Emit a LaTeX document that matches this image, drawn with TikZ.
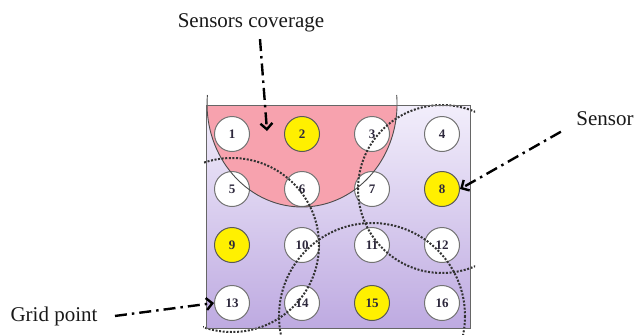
\documentclass[tikz,border=0pt]{standalone}
\usepackage{fontspec}
\setmainfont{Liberation Serif}
\usetikzlibrary{positioning}
\usetikzlibrary{arrows.meta}
\definecolor{coverPink}{RGB}{247,162,174}
\definecolor{sensorYellow}{RGB}{255,240,0}
\definecolor{fieldTop}{RGB}{242,238,251}
\definecolor{fieldBottom}{RGB}{190,170,225}
\definecolor{numColor}{RGB}{45,40,60}

\begin{document}
\begin{tikzpicture}[x=1pt,y=-1pt]

          \tikzstyle{gridNode} = [circle, draw=black!55, line width=1pt, fill=white, minimum size=35pt, inner sep=0pt, font=\fontsize{13}{15}\selectfont\bfseries, text=numColor];
          \tikzstyle{sensorNode} = [gridNode, fill=sensorYellow, draw=black!65];
          \tikzstyle{labelNode} = [font=\fontsize{21}{24}\selectfont, text=black!90];

          \tikzstyle{coverEdge} = [line width=2pt, black!80, dash pattern=on 2pt off 1.6pt];
          \tikzstyle{pointerEdge} = [line width=2.4pt, dash pattern=on 12pt off 5pt on 2.5pt off 5pt, -{Straight Barb[length=6pt,width=12pt]}];

          \useasboundingbox (0,0) rectangle (644,335);

          % field and coverage of sensor 2
          \shade[top color=fieldTop, bottom color=fieldBottom] (206,105) rectangle (470,328);
          \begin{scope}
            \clip (206,105) rectangle (470,328);
            \fill[coverPink] (207,104) arc[start angle=180, end angle=0, x radius=95, y radius=103] -- cycle;
          \end{scope}

          \node[gridNode] (p1) at (232,134) {1};
          \node[sensorNode] (p2) at (302,134) {2};
          \node[gridNode] (p3) at (372,134) {3};
          \node[gridNode] (p4) at (442,134) {4};
          \node[gridNode] (p5) at (232,189) {5};
          \node[gridNode] (p6) at (302,189) {6};
          \node[gridNode] (p7) at (372,189) {7};
          \node[sensorNode] (p8) at (442,189) {8};
          \node[sensorNode] (p9) at (232,245) {9};
          \node[gridNode] (p10) at (302,245) {10};
          \node[gridNode] (p11) at (372,245) {11};
          \node[gridNode] (p12) at (442,245) {12};
          \node[gridNode] (p13) at (232,303) {13};
          \node[gridNode] (p14) at (302,303) {14};
          \node[sensorNode] (p15) at (372,303) {15};
          \node[gridNode] (p16) at (442,303) {16};

          \draw[black!70, line width=0.9pt] (207.4,95) arc[start angle=185, end angle=-5, x radius=95, y radius=103];

          % dotted coverage of the other sensors
          \begin{scope}
            \clip (203,100) rectangle (475,334);
            \draw[coverEdge] (p9) circle[radius=87];
            \draw[coverEdge] ([yshift=-13pt]p15.center) circle[radius=93];
            \draw[coverEdge] (p8) circle[radius=84];
          \end{scope}
          \draw[black!60, line width=0.8pt] (206,105) rectangle (470,328);

          \node[labelNode, anchor=base] (coverLabel) at (251,27) {Sensors coverage};
          \node[labelNode, anchor=base] (sensorLabel) at (605,125) {Sensor};
          \node[labelNode, anchor=base west] (gridLabel) at (7,321) {Grid point};
          \coordinate (coverTip) at (267,131);

          \draw[pointerEdge] ([xshift=9pt,yshift=-4pt]coverLabel.south) -- (coverTip);
          \draw[pointerEdge] ([xshift=-12pt,yshift=-3pt]sensorLabel.south west) -- (p8.east);
          \draw[pointerEdge] ([xshift=14pt]gridLabel.east) -- (p13.west);
        \end{tikzpicture}
\end{document}
